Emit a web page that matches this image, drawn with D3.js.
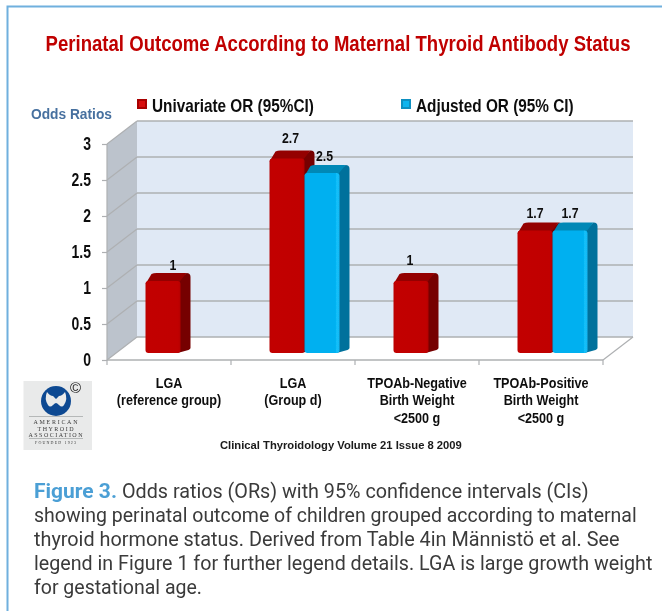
<!DOCTYPE html>
<html>
<head>
<meta charset="utf-8">
<script src="https://cdn.jsdelivr.net/npm/d3@7"></script>
<style>
  html, body { margin: 0; padding: 0; background: #fff; }
  svg { display: block; }
  text { font-family: "Liberation Sans", Arial, sans-serif; }
</style>
</head>
<body>
<div id="chart"></div>
<script>
var categories = ["LGA ref", "LGA d", "TPOAb neg", "TPOAb pos"];
var categoryLabels = [
  ["LGA", "(reference group)"],
  ["LGA", "(Group d)"],
  ["TPOAb-Negative", "Birth Weight", "<2500 g"],
  ["TPOAb-Positive", "Birth Weight", "<2500 g"]
];
var seriesNames = ["Univariate OR (95%CI)", "Adjusted OR (95% CI)"];
var univariate = [1, 2.7, 1, 1.7];
var adjusted = [null, 2.5, null, 1.7];
var yTicks = [0, 0.5, 1, 1.5, 2, 2.5, 3];
var captionLines = [
  "Odds ratios (ORs) with 95% confidence intervals (CIs)",
  "showing perinatal outcome of children grouped according to maternal",
  "thyroid hormone status. Derived from Table 4in Männistö et al. See",
  "legend in Figure 1 for further legend details. LGA is large growth weight",
  "for gestational age."
];

var width = 662, height = 611;
var wallDx = 30, wallDy = -23;   // back wall offset from the front edge
var barDx = 10, barDy = -8;      // depth of a bar
var floorLift = 7;               // bars stand a little behind the front edge

var svg = d3.select("div#chart").append("svg")
  .attr("width", width)
  .attr("height", height);

var defs = svg.append("defs");

function hGradient(id, stops) {
  var g = defs.append("linearGradient").attr("id", id);
  stops.forEach(function(s) {
    g.append("stop").attr("offset", s[0]).attr("stop-color", s[1]);
  });
}
hGradient("redFront", [[0, "#b80606"], [0.05, "#c20000"], [0.93, "#c00000"], [1, "#b40000"]]);
hGradient("blueFront", [[0, "#00a8e8"], [0.05, "#00b0f0"], [0.88, "#00b0f0"], [0.92, "#14c0fa"], [1, "#10b8f4"]]);

var blur = defs.append("filter").attr("id", "soft")
  .attr("filterUnits", "userSpaceOnUse")
  .attr("x", 0).attr("y", 0).attr("width", width).attr("height", height);
blur.append("feGaussianBlur").attr("stdDeviation", 0.4);

// the picture uses a narrow looking Arial, so scale texts sideways
function scaleText(node, k) {
  var s = d3.select(node);
  var tx = +s.attr("x") || 0, ty = +s.attr("y") || 0;
  s.attr("x", 0).attr("y", 0)
    .attr("transform", "translate(" + tx + "," + ty + ") scale(" + k + ",1)");
}
function squeeze(sel, k) {
  sel.each(function() { scaleText(this, k); });
}
function fit(sel, w) {
  sel.each(function(d, i) {
    var target = typeof w === "function" ? w(d, i) : w;
    scaleText(this, target / this.getComputedTextLength());
  });
}

var page = svg.append("g").attr("filter", "url(#soft)");

// frame round the figure
page.append("path")
  .attr("d", "M7.5," + height + "V6.5H" + width)
  .attr("fill", "none")
  .attr("stroke", "#6fb0de")
  .attr("stroke-width", 2);

page.append("text")
  .attr("x", 338).attr("y", 51)
  .attr("text-anchor", "middle")
  .attr("font-size", 22)
  .attr("font-weight", "bold")
  .attr("fill", "#c00000")
  .text("Perinatal Outcome According to Maternal Thyroid Antibody Status")
  .call(fit, 585);

// scales
var x = d3.scaleBand().domain(categories).range([107, 603]);
var y = d3.scaleLinear().domain([0, 3]).range([360, 144]);
var x1 = d3.scaleBand().domain(seriesNames).range([0, 70]);

// walls
var plot = page.append("g");
var yTop = y(3), yBase = y(0), xL = x.range()[0], xR = x.range()[1];

plot.append("polygon")
  .attr("points", [[xL, yBase], [xL, yTop], [xL + wallDx, yTop + wallDy], [xL + wallDx, yBase + wallDy]].join(" "))
  .attr("fill", "#bcc3cc");
plot.append("rect")
  .attr("x", xL + wallDx).attr("y", yTop + wallDy)
  .attr("width", xR - xL).attr("height", yBase - yTop)
  .attr("fill", "#e0e9f5");

plot.selectAll("line.back").data(yTicks).enter().append("line")
  .attr("class", "back")
  .attr("x1", xL + wallDx).attr("x2", xR + wallDx)
  .attr("y1", function(d) { return y(d) + wallDy; })
  .attr("y2", function(d) { return y(d) + wallDy; })
  .attr("stroke", "#aeb0b2").attr("stroke-width", 1.6);

plot.selectAll("line.side").data(yTicks).enter().append("line")
  .attr("class", "side")
  .attr("x1", xL).attr("x2", xL + wallDx)
  .attr("y1", function(d) { return y(d); })
  .attr("y2", function(d) { return y(d) + wallDy; })
  .attr("stroke", "#aeb0b2").attr("stroke-width", 1.2);

plot.append("line")
  .attr("x1", xL).attr("x2", xL).attr("y1", yBase).attr("y2", yTop)
  .attr("stroke", "#aeb0b2").attr("stroke-width", 1.2);
plot.append("line")
  .attr("x1", xR).attr("x2", xR + wallDx).attr("y1", yBase).attr("y2", yBase + wallDy)
  .attr("stroke", "#aeb0b2").attr("stroke-width", 1.2);

// y axis
var yAxis = d3.axisLeft(y).tickValues(yTicks).tickSize(5).tickPadding(11).tickFormat(d3.format("~g"));
var gy = plot.append("g").attr("transform", "translate(" + xL + ",0)").call(yAxis);
gy.select(".domain").remove();
gy.selectAll("line").attr("stroke", "#aeb0b2").attr("stroke-width", 1.2);
gy.selectAll("text")
  .attr("font-size", 17.5)
  .attr("font-weight", "bold")
  .attr("fill", "#111")
  .style("font-family", '"Liberation Sans", Arial, sans-serif')
  .call(squeeze, 0.8);

// x axis line and the ticks on the band edges
plot.append("line")
  .attr("x1", xL).attr("x2", xR).attr("y1", yBase).attr("y2", yBase)
  .attr("stroke", "#aeb0b2").attr("stroke-width", 1.6);
var edges = categories.map(function(c) { return x(c); }).concat([xR]);
plot.selectAll("line.xtick").data(edges).enter().append("line")
  .attr("class", "xtick")
  .attr("x1", function(d) { return d; }).attr("x2", function(d) { return d; })
  .attr("y1", yBase).attr("y2", yBase + 5)
  .attr("stroke", "#aeb0b2").attr("stroke-width", 1.2);

// bars
var looks = [
  { front: "url(#redFront)", top: "#940000", side: "#760000" },
  { front: "url(#blueFront)", top: "#0088b6", side: "#00719c" }
];
var barData = [];
categories.forEach(function(c, i) {
  [univariate[i], adjusted[i]].forEach(function(v, s) {
    if (v === null) return;
    barData.push({ cat: c, s: s, v: v });
  });
});

function barX(d) { return x(d.cat) + x.bandwidth() / 2 - 23.5 + x1(seriesNames[d.s]); }
function barTop(d) { return y(d.v) - floorLift; }
var barBase = y(0) - floorLift;
var bw = x1.bandwidth();

var bars = plot.selectAll("g.bar").data(barData).enter().append("g").attr("class", "bar");

bars.append("path")
  .attr("fill", function(d) { return looks[d.s].side; })
  .attr("d", function(d) {
    var r = barX(d) + bw, t = barTop(d);
    return "M" + (r - 3) + "," + t + "L" + (r + barDx - 4) + "," + (t + barDy) +
      "Q" + (r + barDx) + "," + (t + barDy) + " " + (r + barDx) + "," + (t + barDy + 4) +
      "V" + (barBase + barDy + 3) + "Q" + (r + barDx) + "," + (barBase + barDy + 4) + " " + (r + barDx - 2) + "," + (barBase + barDy + 5) +
      "L" + (r - 3) + "," + barBase + "Z";
  });
bars.append("path")
  .attr("fill", function(d) { return looks[d.s].top; })
  .attr("d", function(d) {
    var l = barX(d), r = l + bw, t = barTop(d);
    return "M" + l + "," + (t + 3) + "L" + (l + barDx - 4) + "," + (t + barDy + 1) +
      "Q" + (l + barDx - 2) + "," + (t + barDy) + " " + (l + barDx + 1) + "," + (t + barDy) +
      "H" + (r + barDx - 4) + "L" + (r - 2) + "," + (t + 2) + "L" + l + "," + (t + 3) + "Z";
  });
bars.append("rect")
  .attr("x", barX)
  .attr("y", barTop)
  .attr("width", bw)
  .attr("height", function(d) { return barBase - barTop(d); })
  .attr("rx", 3)
  .attr("fill", function(d) { return looks[d.s].front; });

// value labels sit a bit differently on every bar
var labelNudgeX = [10, 3.5, 2.5, -1, 0, 0];
var labelNudgeY = [11, 15.6, 12, 16, 12.6, 12.6];
plot.selectAll("text.val").data(barData).enter().append("text")
  .attr("class", "val")
  .attr("x", function(d, i) { return barX(d) + bw / 2 + labelNudgeX[i]; })
  .attr("y", function(d, i) { return barTop(d) - labelNudgeY[i]; })
  .attr("text-anchor", "middle")
  .attr("font-size", 14.5)
  .attr("font-weight", "bold")
  .attr("fill", "#111")
  .text(function(d) { return d3.format("~g")(d.v); })
  .call(squeeze, 0.85);

// category labels
var catLabel = plot.selectAll("g.cat").data(categories).enter().append("g")
  .attr("class", "cat")
  .attr("transform", function(c) { return "translate(" + (x(c) + x.bandwidth() / 2) + ",0)"; });
catLabel.selectAll("text")
  .data(function(c, i) { return categoryLabels[i]; })
  .enter().append("text")
  .attr("y", function(d, i) { return 387.5 + i * 17.7; })
  .attr("text-anchor", "middle")
  .attr("font-size", 14.5)
  .attr("font-weight", "bold")
  .attr("fill", "#111")
  .text(function(d) { return d; })
  .call(squeeze, 0.87);

// legend
var legendX = [137, 401], legendTextW = [162, 158];
var legend = page.selectAll("g.legend").data(seriesNames).enter().append("g")
  .attr("class", "legend")
  .attr("transform", function(d, i) { return "translate(" + legendX[i] + ",99)"; });
legend.append("rect")
  .attr("width", 10).attr("height", 10)
  .attr("fill", function(d, i) { return ["#a80000", "#0f8fc0"][i]; });
legend.append("rect")
  .attr("x", 2).attr("y", 2).attr("width", 6).attr("height", 6)
  .attr("fill", function(d, i) { return ["#d81010", "#10b4ee"][i]; });
legend.append("text")
  .attr("x", 15).attr("y", 12.5)
  .attr("font-size", 17.5)
  .attr("font-weight", "bold")
  .attr("fill", "#111")
  .text(function(d) { return d; })
  .call(fit, function(d, i) { return legendTextW[i]; });

page.append("text")
  .attr("x", 31).attr("y", 119)
  .attr("font-size", 15.5)
  .attr("font-weight", "bold")
  .attr("fill", "#46709f")
  .text("Odds Ratios")
  .call(fit, 81);

page.append("text")
  .attr("x", 220).attr("y", 449)
  .attr("font-size", 11)
  .attr("font-weight", "bold")
  .attr("fill", "#1a1a1a")
  .text("Clinical Thyroidology Volume 21 Issue 8 2009")
  .call(fit, 242);

// society logo
var logo = page.append("g");
logo.append("rect")
  .attr("x", 23.5).attr("y", 381).attr("width", 68.5).attr("height", 69)
  .attr("fill", "#e9eaea");
logo.append("circle")
  .attr("cx", 56).attr("cy", 401).attr("r", 15)
  .attr("fill", "#0f4a92");
logo.append("path")
  .attr("d", "M47,392 Q50,396 53,396 L56,399 L59,396 Q62,396 65,392 Q68,399 64,405 Q62,408 59,405 Q57,403 56,403 Q55,403 53,405 Q50,408 48,405 Q44,399 47,392Z")
  .attr("fill", "#e9eaea");
logo.append("line")
  .attr("x1", 29).attr("x2", 83).attr("y1", 416.5).attr("y2", 416.5)
  .attr("stroke", "#b5b8b8");
logo.append("line")
  .attr("x1", 29).attr("x2", 83).attr("y1", 438.5).attr("y2", 438.5)
  .attr("stroke", "#b5b8b8");
var logoLines = [["AMERICAN", 424, 44], ["THYROID", 430.5, 36], ["ASSOCIATION", 437, 54], ["FOUNDED 1923", 444, 41]];
logo.selectAll("text.logo").data(logoLines).enter().append("text")
  .attr("class", "logo")
  .attr("x", 55.5)
  .attr("y", function(d) { return d[1]; })
  .attr("text-anchor", "middle")
  .attr("font-size", function(d, i) { return i == 3 ? 4 : 6; })
  .attr("fill", "#3a3a3a")
  .attr("textLength", function(d) { return d[2]; })
  .style("font-family", '"Liberation Serif", serif')
  .text(function(d) { return d[0]; });
logo.append("text")
  .attr("x", 75.5).attr("y", 393)
  .attr("text-anchor", "middle")
  .attr("font-size", 15)
  .attr("fill", "#222")
  .text("©");

// caption
var captionEnd = [589, 637, 620, 653, 202];
var caption = svg.append("g").attr("filter", "url(#soft)");
caption.append("text")
  .attr("x", 34).attr("y", 498)
  .attr("font-size", 19.5)
  .attr("font-weight", "bold")
  .attr("fill", "#4b9fd5")
  .style("font-family", "Roboto, sans-serif")
  .text("Figure 3.")
  .call(fit, 83);
caption.selectAll("text.cap").data(captionLines).enter().append("text")
  .attr("class", "cap")
  .attr("x", function(d, i) { return i == 0 ? 122 : 34; })
  .attr("y", function(d, i) { return 498 + i * 24; })
  .attr("font-size", 19.5)
  .attr("fill", "#3a3a3a")
  .style("font-family", "Roboto, sans-serif")
  .style("font-weight", 400)
  .text(function(d) { return d; })
  .call(fit, function(d, i) { return captionEnd[i] - (i == 0 ? 122 : 34); });
</script>
</body>
</html>
